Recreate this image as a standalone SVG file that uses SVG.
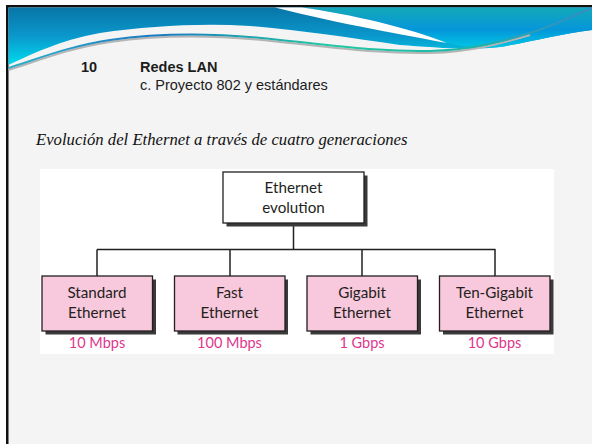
<svg xmlns="http://www.w3.org/2000/svg" width="592" height="444" viewBox="0 0 592 444">
  <defs>
    <linearGradient id="gLeft" x1="0" y1="0" x2="0" y2="1">
      <stop offset="0" stop-color="#0875a6"/>
      <stop offset="0.5" stop-color="#0a98cc"/>
      <stop offset="1" stop-color="#00dcee"/>
    </linearGradient>
    <linearGradient id="gRight" x1="0" y1="0" x2="0" y2="1">
      <stop offset="0" stop-color="#14a9b8"/>
      <stop offset="0.55" stop-color="#0596da"/>
      <stop offset="1" stop-color="#00c6e4"/>
    </linearGradient>
    <linearGradient id="gLine" x1="0" y1="0" x2="1" y2="0">
      <stop offset="0" stop-color="#30b0c8"/>
      <stop offset="0.25" stop-color="#1a78c0"/>
      <stop offset="0.55" stop-color="#22c8a2"/>
      <stop offset="0.8" stop-color="#1fb4a8"/>
      <stop offset="1" stop-color="#3a86c8"/>
    </linearGradient>
    <style>
      .hdr { font-family: "Liberation Sans", Arial, sans-serif; font-size: 14.5px; fill: #1c1c1c; }
      .b { font-weight: bold; }
      .cap { font-family: "Liberation Serif", "Times New Roman", serif; font-style: italic; font-size: 16.7px; fill: #111; }
      .lbl { font-family: Lato, "Noto Sans", sans-serif; font-size: 15.2px; fill: #231f20; text-anchor: middle; }
      .rate { font-family: Lato, "Noto Sans", sans-serif; font-size: 14.5px; fill: #e0368c; text-anchor: middle; }
      .box { stroke: #231f20; stroke-width: 1.3; }
      .root { fill: #ffffff; }
      .child { fill: #f8c8dc; }
      .shadow { fill: #3a3a3a; }
      .conn { fill: none; stroke: #231f20; stroke-width: 1.5; }
    </style>
  </defs>

  <!-- slide background -->
  <rect x="0" y="0" width="592" height="444" fill="#ffffff"/>
  <rect x="8" y="7" width="584" height="437" fill="#f4f4f4"/>
  <rect x="6" y="5" width="586" height="2.5" fill="#111"/>
  <rect x="6" y="5" width="2.5" height="439" fill="#111"/>

  <!-- header wave -->
  <g id="header">
    <path d="M8.5,7.5 H592 V30 C560,34 530,42 500,47 C470,51 430,47 400,45 C350,38 300,30 250,26 C200,23 150,26 100,33 C60,40 30,55 8.5,65 Z" fill="url(#gLeft)"/>
    <path d="M302,7.5 H592 V30 C560,34 530,42 500,47 C480,49 460,46 447,43 C410,28 350,14 302,7.5 Z" fill="url(#gRight)"/>
    <path d="M275,7.5 L302,7.5 C350,14 410,28 447,43 C410,36 340,24 275,7.5 Z" fill="#ffffff"/>
    <path d="M8.5,70 C40,60 70,48 110,42 C160,35 220,35 280,42 C340,48 380,54 430,53 C470,52 500,44 530,35" fill="none" stroke="#b4b4b4" stroke-width="2"/>
    <path d="M8.5,68 C40,58 70,46 110,40 C160,33 220,33 280,40 C340,46 380,52 430,51 C470,50 500,42 530,33 C555,25 575,15 592,8" fill="none" stroke="url(#gLine)" stroke-width="2"/>
  </g>

  <!-- titles -->
  <text class="hdr b" x="81" y="72">10</text>
  <text class="hdr b" x="140" y="72">Redes LAN</text>
  <text class="hdr" x="140" y="90">c. Proyecto 802 y estándares</text>
  <text class="cap" x="36" y="145">Evolución del Ethernet a través de cuatro generaciones</text>

  <!-- diagram area -->
  <rect x="40" y="169" width="514" height="185" fill="#ffffff"/>

  <g id="connectors">
    <path class="conn" d="M293.5,223 V249.5"/>
    <path class="conn" d="M97,249.5 H495.5"/>
    <path class="conn" d="M97,249.5 V276"/>
    <path class="conn" d="M230,249.5 V276"/>
    <path class="conn" d="M362,249.5 V276"/>
    <path class="conn" d="M495,249.5 V276"/>
  </g>

  <g id="root">
    <rect class="shadow" x="226.5" y="175.5" width="141" height="51"/>
    <rect class="box root" x="223" y="172" width="141" height="51"/>
    <text class="lbl" x="293.5" y="193">Ethernet</text>
    <text class="lbl" x="293.5" y="213">evolution</text>
  </g>

  <g id="standard">
    <rect class="shadow" x="45.5" y="279.5" width="110.5" height="55"/>
    <rect class="box child" x="42" y="276" width="110.5" height="55"/>
    <text class="lbl" x="97" y="298">Standard</text>
    <text class="lbl" x="97" y="318">Ethernet</text>
    <text class="rate" x="97" y="348">10 Mbps</text>
  </g>

  <g id="fast">
    <rect class="shadow" x="177.5" y="279.5" width="110.5" height="55"/>
    <rect class="box child" x="174.5" y="276" width="110.5" height="55"/>
    <text class="lbl" x="229.5" y="298">Fast</text>
    <text class="lbl" x="229.5" y="318">Ethernet</text>
    <text class="rate" x="229.5" y="348">100 Mbps</text>
  </g>

  <g id="gigabit">
    <rect class="shadow" x="310.5" y="279.5" width="110.5" height="55"/>
    <rect class="box child" x="307" y="276" width="110.5" height="55"/>
    <text class="lbl" x="362" y="298">Gigabit</text>
    <text class="lbl" x="362" y="318">Ethernet</text>
    <text class="rate" x="362" y="348">1 Gbps</text>
  </g>

  <g id="tengigabit">
    <rect class="shadow" x="443" y="279.5" width="110.5" height="55"/>
    <rect class="box child" x="439.5" y="276" width="110.5" height="55"/>
    <text class="lbl" x="494.5" y="298">Ten-Gigabit</text>
    <text class="lbl" x="494.5" y="318">Ethernet</text>
    <text class="rate" x="494.5" y="348">10 Gbps</text>
  </g>
</svg>
